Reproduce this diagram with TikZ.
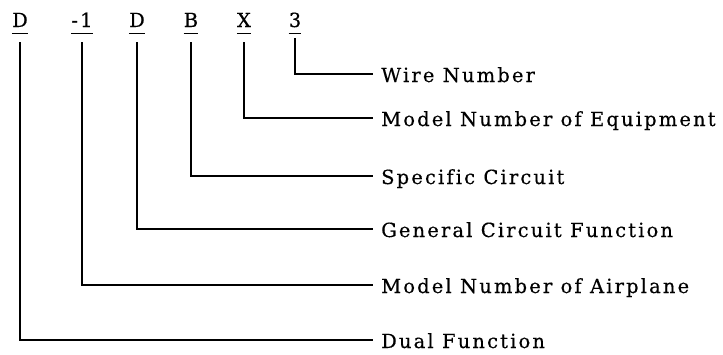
\documentclass[tikz,border=0pt]{standalone}
\usepackage{fontspec}
\setmainfont{DejaVu Serif}[LetterSpace=11,Ligatures=NoCommon,FakeBold=0.4]
\usetikzlibrary{positioning}

\begin{document}
\begin{tikzpicture}[x=1pt,y=-1pt,
  code/.style={anchor=base,inner sep=0pt,font=\fontsize{19.5}{22}\selectfont},
  field/.style={anchor=west,inner xsep=8pt,inner ysep=0pt,text height=16pt,text depth=0pt,font=\fontsize{19.5}{22}\selectfont},
  lead/.style={line width=1.2pt}]
\useasboundingbox (0,0) rectangle (723,354);

% Kennzeichen
\node[code] (dual) at (20,27) {D};
\node[code] (plane) at (82,27) {-1};
\node[code] (gen) at (137,27) {D};
\node[code] (spec) at (191,27) {B};
\node[code] (equip) at (244,27) {X};
\node[code] (wire) at (295,27) {3};

% Unterstriche
\foreach \c in {dual,plane,gen,spec,equip,wire}
  \draw[line width=0.8pt] ([yshift=-6pt]\c.base west) -- ([yshift=-6pt]\c.base east);

% Bezeichnungen
\node[field] (wireT) at (373,74) {Wire Number};
\node[field] (equipT) at (373,118) {Model Number of Equipment};
\node[field] (specT) at (373,176) {Specific Circuit};
\node[field] (genT) at (373,229) {General Circuit Function};
\node[field] (planeT) at (373,285) {Model Number of Airplane};
\node[field] (dualT) at (373,340) {Dual Function};

% Leitungen
\draw[lead] ([yshift=-11pt]wire.base) |- (wireT.west);
\foreach \c in {equip,spec,gen,plane,dual}
  \draw[lead] ([yshift=-15pt]\c.base) |- (\c T.west);

\end{tikzpicture}
\end{document}
